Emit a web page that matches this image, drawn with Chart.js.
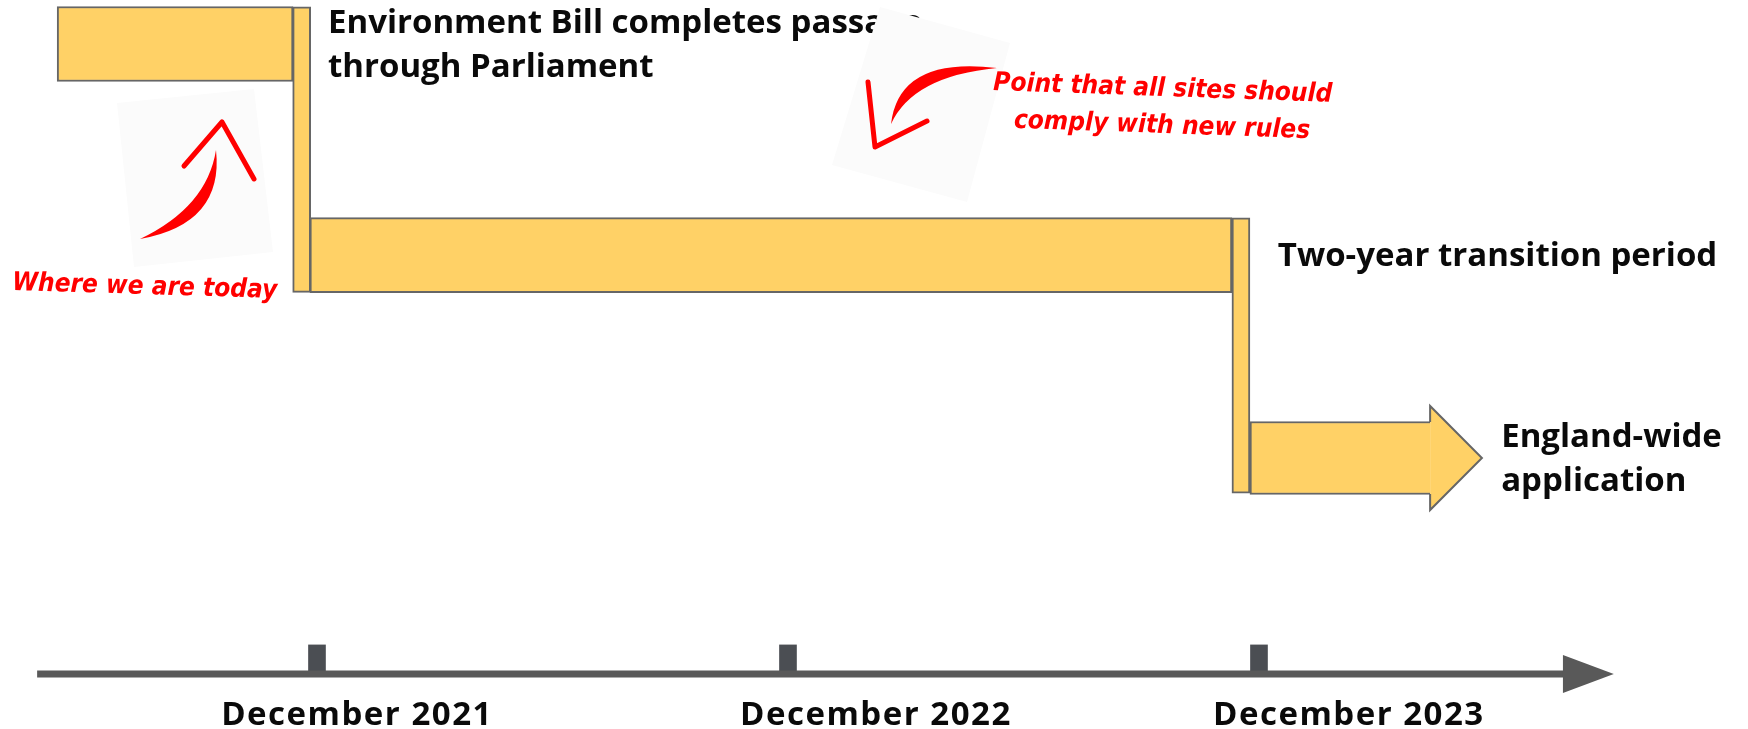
<!DOCTYPE html>
<html>
<head>
<meta charset="utf-8">
<script src="https://cdn.jsdelivr.net/npm/chart.js@4.4.1/dist/chart.umd.min.js"></script>
<style>
  html, body { margin: 0; padding: 0; background: #fff; }
  #wrap { width: 1748px; height: 729px; position: relative; }
</style>
</head>
<body>
<div id="wrap"><canvas id="timeline"></canvas></div>
<script>
// x = months counted from December 2021, y = rows counted from the top bar
const stageRows = [0, 1.02, 2];
const stageFrom = [-6.62, -0.18, 23.77];
const stageTo = [-0.61, 23.31, 28.36];
const arrowTip = 29.68;

const stepMonths = [-0.39, 23.54];
const stepFrom = [-0.18, 0.84];
const stepTo = [1.2, 2.17];

const stageNotes = [
    ["Environment Bill completes passage", "through Parliament"],
    ["Two-year transition period"],
    ["England-wide", "application"],
];
const noteMonths = [0.28, 24.48, 30.17];

const timelineRow = 3.043;
const timelineFrom = -7.13;
const timelineTo = 31.77;
const timelineTip = 33.04;
const tickMonths = [0, 12, 24];
const tickTop = 2.903;
const tickLabels = ["December 2021", "December 2022", "December 2023"];
const tickLabelMonths = [1.02, 14.24, 26.29];

const handNotes = [
    ["Where we are today"],
    ["Point that all sites should", "comply with new rules"],
];

const FILL = "#ffd166";
const EDGE = "#666666";
const LABEL_FONT = 'bold 33px "Open Sans", Lato, sans-serif';
const HAND_FONT = 'italic bold 26px "Liberation Sans Narrow", "DejaVu Sans Condensed", sans-serif';

// shapes and text that the bar datasets can't do on their own
const sketchPlugin = {
    id: "sketch",
    afterDatasetsDraw(chart) {
        const ctx = chart.ctx;
        const xs = chart.scales.x;
        const ys = chart.scales.y;

        ctx.save();

        // head of the England-wide arrow
        const hx = xs.getPixelForValue(stageTo[2]);
        const tx = xs.getPixelForValue(arrowTip);
        const cy = ys.getPixelForValue(stageRows[2]);
        const head = () => {
            ctx.beginPath();
            ctx.moveTo(hx, cy - 36);
            ctx.lineTo(hx, cy - 52);
            ctx.lineTo(tx, cy);
            ctx.lineTo(hx, cy + 52);
            ctx.lineTo(hx, cy + 36);
        };
        head();
        ctx.closePath();
        ctx.fillStyle = FILL;
        ctx.fill();
        head();
        ctx.strokeStyle = EDGE;
        ctx.lineWidth = 2;
        ctx.stroke();

        // head of the timeline
        const lx = xs.getPixelForValue(timelineTo);
        const ltx = xs.getPixelForValue(timelineTip);
        const ly = ys.getPixelForValue(timelineRow);
        ctx.beginPath();
        ctx.moveTo(lx - 1, ly - 19);
        ctx.lineTo(ltx, ly);
        ctx.lineTo(lx - 1, ly + 19);
        ctx.closePath();
        ctx.fillStyle = "#595959";
        ctx.fill();

        // stage notes
        ctx.font = LABEL_FONT;
        ctx.fillStyle = "#0a0a0a";
        ctx.textAlign = "left";
        ctx.textBaseline = "alphabetic";
        const noteBase = [-11, 11, -11];
        stageNotes.forEach((lines, i) => {
            const nx = xs.getPixelForValue(noteMonths[i]);
            const ny = ys.getPixelForValue(stageRows[i]) + noteBase[i];
            lines.forEach((t, j) => ctx.fillText(t, nx, ny + j * 44));
        });

        // timeline labels
        ctx.textAlign = "center";
        ctx.letterSpacing = "1.5px";
        tickLabels.forEach((t, i) => {
            ctx.fillText(t, xs.getPixelForValue(tickLabelMonths[i]), ly + 51);
        });
        ctx.letterSpacing = "0px";

        // pasted-in scribble backgrounds
        ctx.fillStyle = "#fbfbfb";
        [
            [[117, 103], [254, 89], [273, 252], [134, 267]],
            [[880, 7], [1010, 43], [967, 202], [832, 165]],
        ].forEach((pts) => {
            ctx.beginPath();
            pts.forEach((p, k) => (k ? ctx.lineTo(p[0], p[1]) : ctx.moveTo(p[0], p[1])));
            ctx.closePath();
            ctx.fill();
        });

        // hand drawn arrows
        ctx.fillStyle = "#ff0000";
        ctx.strokeStyle = "#ff0000";
        ctx.lineCap = "round";
        ctx.lineJoin = "round";
        const swoosh = (a, b, c1, c2) => {
            ctx.beginPath();
            ctx.moveTo(a[0], a[1]);
            ctx.quadraticCurveTo(c1[0], c1[1], b[0], b[1]);
            ctx.quadraticCurveTo(c2[0], c2[1], a[0], a[1]);
            ctx.closePath();
            ctx.fill();
        };
        const barbs = (p, tip, q) => {
            ctx.beginPath();
            ctx.moveTo(p[0], p[1]);
            ctx.lineTo(tip[0], tip[1]);
            ctx.lineTo(q[0], q[1]);
            ctx.lineWidth = 5;
            ctx.stroke();
        };
        swoosh([140, 239], [216, 150], [224, 224], [207, 207]);
        barbs([184, 166], [222, 122], [254, 179]);
        swoosh([997, 68], [891, 124], [899, 56], [913, 76]);
        barbs([868, 82], [875, 147], [927, 121]);

        // hand written notes
        ctx.font = HAND_FONT;
        ctx.textAlign = "left";
        ctx.save();
        ctx.translate(12, 290);
        ctx.rotate(0.03);
        ctx.fillText(handNotes[0][0], 0, 0);
        ctx.restore();
        ctx.save();
        ctx.translate(993, 90);
        ctx.rotate(0.035);
        ctx.fillText(handNotes[1][0], 0, 0);
        ctx.fillText(handNotes[1][1], 22, 37);
        ctx.restore();

        ctx.restore();
    },
};

const stageData = stageRows.map((r, i) => ({ x: [stageFrom[i], stageTo[i]], y: r }));
const stepData = stepMonths.map((m, i) => ({ x: m, y: [stepFrom[i], stepTo[i]] }));
const tickData = tickMonths.map((m) => ({ x: m, y: [tickTop, timelineRow] }));

new Chart(document.getElementById("timeline"), {
    type: "bar",
    data: {
        datasets: [
            {
                label: "stages",
                indexAxis: "y",
                data: stageData.slice(0, 2),
                backgroundColor: FILL,
                borderColor: EDGE,
                borderWidth: 2,
                borderSkipped: false,
                barThickness: 75,
                grouped: false,
                order: 3,
            },
            {
                label: "england-wide",
                indexAxis: "y",
                data: stageData.slice(2),
                backgroundColor: FILL,
                borderColor: EDGE,
                borderWidth: 2,
                borderSkipped: "right",
                barThickness: 73,
                grouped: false,
                order: 3,
            },
            {
                label: "steps",
                indexAxis: "x",
                data: stepData,
                backgroundColor: FILL,
                borderColor: EDGE,
                borderWidth: 2,
                borderSkipped: false,
                barThickness: 18,
                grouped: false,
                order: 2,
            },
            {
                label: "ticks",
                indexAxis: "x",
                data: tickData,
                backgroundColor: "#4b4e53",
                borderWidth: 0,
                barThickness: 17,
                grouped: false,
                order: 1,
            },
            {
                type: "line",
                label: "timeline",
                data: [
                    { x: timelineFrom, y: timelineRow },
                    { x: timelineTo, y: timelineRow },
                ],
                borderColor: "#595959",
                borderWidth: 7,
                pointRadius: 0,
                borderCapStyle: "butt",
                order: 0,
            },
        ],
    },
    plugins: [sketchPlugin],
    options: {
        responsive: true,
        maintainAspectRatio: false,
        animation: false,
        layout: { padding: 0 },
        scales: {
            x: { type: "linear", display: false, offset: false, min: -8.076, max: 36.459 },
            y: { type: "linear", display: false, offset: false, reverse: true, min: -0.2126, max: 3.3092 },
        },
        plugins: {
            legend: { display: false },
            tooltip: { enabled: false },
        },
    },
});
</script>
</body>
</html>
